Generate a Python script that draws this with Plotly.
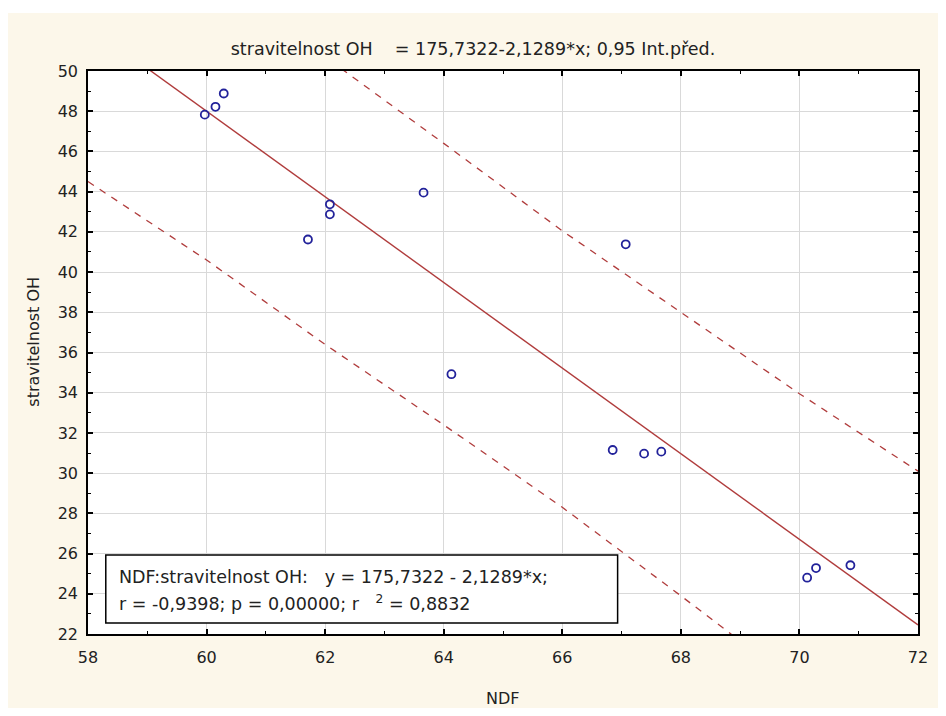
import plotly.graph_objects as go

# ---- data ----
ndf = [59.97, 60.15, 60.29, 61.71, 62.08, 62.08, 63.66, 64.13,
       66.85, 67.07, 67.38, 67.67, 70.13, 70.28, 70.86]
oh = [47.83, 48.22, 48.88, 41.62, 43.37, 42.87, 43.95, 34.92,
      31.15, 41.38, 30.97, 31.07, 24.80, 25.28, 25.42]

fit_x = [58, 72]
fit_y = [52.26, 22.45]

band_x = [58, 60, 62, 64, 66, 68, 70, 72]
band_upper = [60.0, 55.3, 50.7, 46.4, 42.05, 38.0, 33.95, 30.1]
band_lower = [44.5, 40.6, 36.4, 32.4, 28.3, 23.9, 19.4, 14.75]

x_tick_vals = list(range(58, 73, 2))
y_tick_vals = list(range(22, 51, 2))

title_text = "stravitelnost OH    = 175,7322-2,1289*x; 0,95 Int.před."
box_line1 = "NDF:stravitelnost OH:   y = 175,7322 - 2,1289*x;"
box_line2 = "r = -0,9398; p = 0,00000; r   <sup>2</sup> = 0,8832"
x_title = "NDF"
y_title = "stravitelnost OH"

FONT = "DejaVu Sans"
RED = "#b03c3c"
BLUE = "#22229a"
TXT = "#222"

# page body adds an 8px margin on every side; figure fills the rest exactly
W, H = 930, 700
L, T = 80, 63          # plot area left/top inside figure
PW, PH = 840, 563      # plot area size


def px_x(xw):
    """window x pixel -> paper x"""
    return (xw - 8 - L) / PW


def px_y(yw):
    """window y pixel -> paper y"""
    return (T + PH - (yw - 8)) / PH


fig = go.Figure()
for yb in (band_upper, band_lower):
    fig.add_trace(go.Scatter(x=band_x, y=yb, mode="lines",
                             line=dict(color=RED, width=1.3, dash="7px,7px"),
                             hoverinfo="skip"))
fig.add_trace(go.Scatter(x=fit_x, y=fit_y, mode="lines",
                         line=dict(color=RED, width=1.4)))
fig.add_trace(go.Scatter(x=ndf, y=oh, mode="markers",
                         marker=dict(symbol="circle-open", size=8, color=BLUE,
                                     line=dict(width=1.8, color=BLUE))))

axis_common = dict(
    ticks="inside", ticklen=5, tickwidth=1.5, tickcolor="black",
    showline=True, linecolor="black", linewidth=1.5, mirror="ticks",
    showgrid=True, gridcolor="#d9d9d9", gridwidth=1, zeroline=False,
    tickfont=dict(family=FONT, size=16, color=TXT),
    ticklabeloverflow="allow",
    minor=dict(dtick=1, ticks="inside", ticklen=3, tickwidth=1.3,
               tickcolor="black", showgrid=False),
)

fig.update_xaxes(range=[58, 72], tickvals=x_tick_vals, ticklabelstandoff=8,
                 **axis_common)
fig.update_yaxes(range=[22, 50], tickvals=y_tick_vals, ticklabelstandoff=5,
                 **axis_common)

fig.update_layout(
    width=W, height=H,
    margin=dict(l=L, r=W - L - PW, t=T, b=H - T - PH),
    paper_bgcolor="#fcf7ea", plot_bgcolor="white",
    showlegend=False,
    font=dict(family=FONT, size=16, color=TXT),
    title=dict(text=title_text, x=(473 - 8) / W, xref="container",
               xanchor="center",
               y=1 - (49 - 8) / H, yref="container", yanchor="middle",
               font=dict(family=FONT, size=17.5, color=TXT)),
)

# white strip at very top (window rows 0..13)
fig.add_shape(type="rect", xref="paper", yref="paper",
              x0=-0.2, x1=1.2, y0=px_y(13), y1=1.3,
              fillcolor="white", line=dict(width=0), layer="below")

# statistics box
fig.add_shape(type="rect", xref="paper", yref="paper",
              x0=px_x(106), x1=px_x(624), y0=px_y(623), y1=px_y(555),
              fillcolor="white", line=dict(color="black", width=1.5),
              layer="above")
for line_text, yw in ((box_line1, 577), (box_line2, 603)):
    fig.add_annotation(text=line_text, xref="paper", yref="paper",
                       x=px_x(117), y=px_y(yw),
                       xanchor="left", yanchor="middle", showarrow=False,
                       font=dict(family=FONT, size=17.5, color=TXT))

# axis titles
fig.add_annotation(text=x_title, xref="paper", yref="paper",
                   x=px_x(508), y=px_y(698),
                   xanchor="center", yanchor="middle", showarrow=False,
                   font=dict(family=FONT, size=16, color=TXT))
fig.add_annotation(text=y_title, xref="paper", yref="paper",
                   x=px_x(32), y=px_y(342), textangle=-90,
                   xanchor="center", yanchor="middle", showarrow=False,
                   font=dict(family=FONT, size=16, color=TXT))

fig.write_html("out.html")
